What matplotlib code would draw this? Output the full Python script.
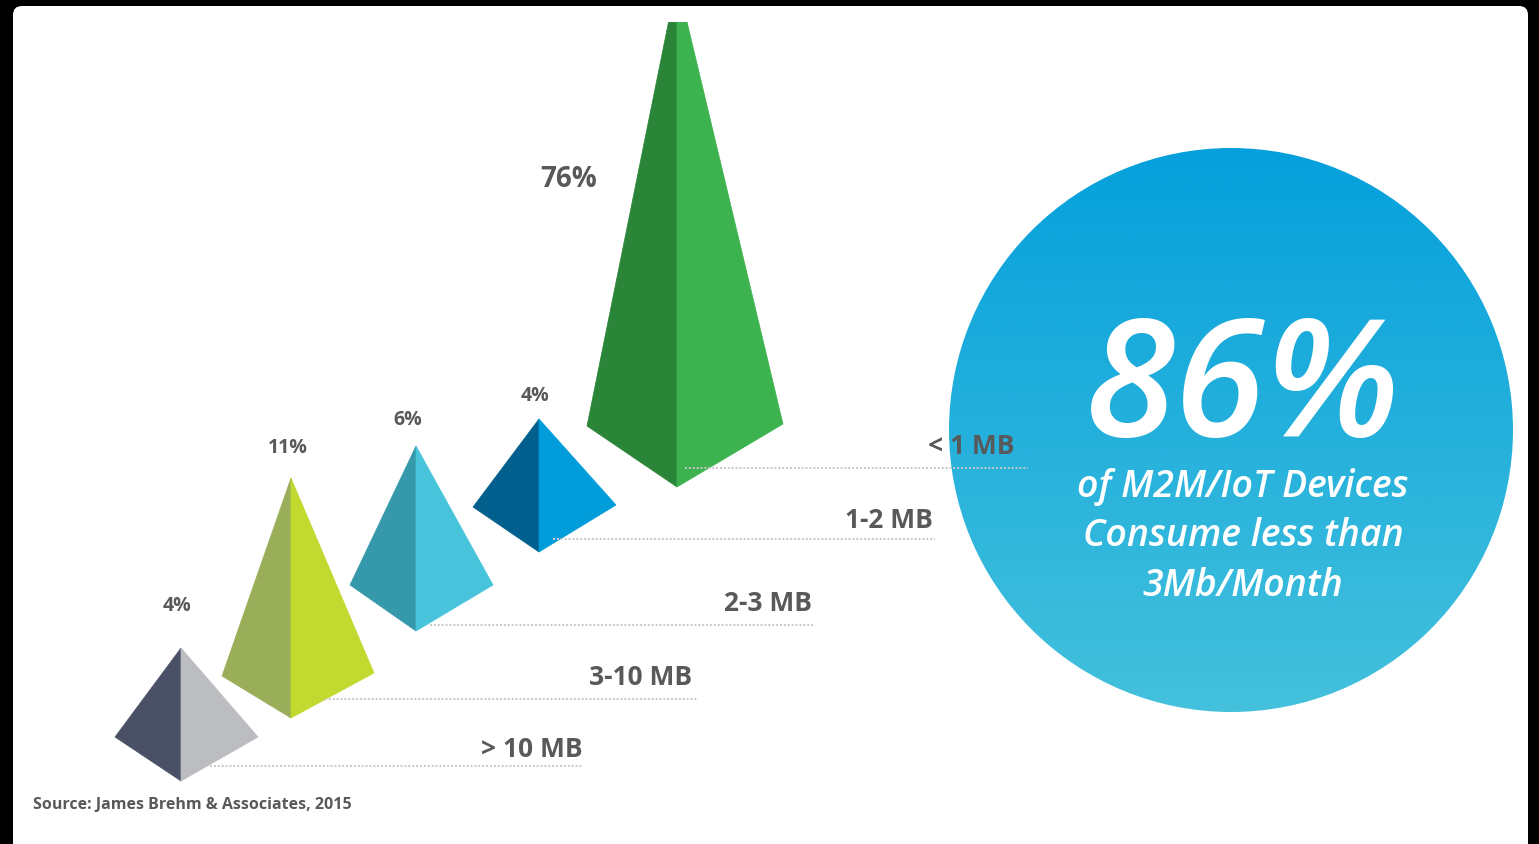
import numpy as np
import matplotlib
matplotlib.use("Agg")
import matplotlib.pyplot as plt
from matplotlib.patches import Polygon, Circle, FancyBboxPatch, Rectangle
from matplotlib.colors import to_rgb

# data
categories = ["> 10 MB", "3-10 MB", "2-3 MB", "1-2 MB", "< 1 MB"]
shares = [4, 11, 6, 4, 76]
share_labels = ["%d%%" % v for v in shares]
headline = "86%"
headline_sub = ["of M2M/IoT Devices", "Consume less than", "3Mb/Month"]
source = "Source: James Brehm & Associates, 2015"

# layout (pixel coords, y downwards)
W, H = 1539, 844
# cx, apex_y, bottom_y, left corner, right corner
pyr = [
    (181, 648, 781, (115, 737), (258, 737)),
    (291, 478, 718, (222, 676), (374, 673)),
    (416, 446, 631, (350, 585), (493, 585)),
    (539, 419, 552, (473, 507), (616, 505)),
    (677, -20, 487, (587, 426), (783, 424)),
]
face_dark = ["#4a5166", "#9aae5a", "#3599ab", "#005f8d", "#2b8538"]
face_light = ["#bcbdc1", "#c2d92f", "#47c4dc", "#019ddb", "#3db34f"]
pct_pos = [(177, 611), (288, 453), (408, 425), (535, 401), (569, 187)]
pct_size = [14, 14, 14, 14, 20]
lab_pos = [(583, 757), (692, 685), (812, 611), (933, 528), (1014, 454)]
line_pos = [(210, 582, 766), (325, 697, 699), (430, 815, 625),
            (553, 935, 539), (685, 1028, 468)]

TXT = "#58595b"
FONT = "Open Sans"

fig = plt.figure(figsize=(W / 100, H / 100), dpi=100, facecolor="black")
ax = fig.add_axes([0, 0, 1, 1])
ax.set_facecolor("black")
ax.axis("off")

panel = FancyBboxPatch((13, 6), 1515, 900, boxstyle="round,pad=0,rounding_size=9",
                       facecolor="white", edgecolor="none", zorder=0)
ax.add_patch(panel)
clip = Rectangle((13, 22), 1515, 900, transform=ax.transData)

# circle with vertical gradient
cx, cy, r = 1231, 430, 282
top_c = np.array(to_rgb("#05a0dc"))
bot_c = np.array(to_rgb("#44c1dc"))
t = np.linspace(0, 1, 256)[:, None, None]
grad = top_c * (1 - t) + bot_c * t
im = ax.imshow(grad, extent=(cx - r, cx + r, cy + r, cy - r), origin="upper",
               aspect="auto", zorder=1, interpolation="bilinear")
circ = Circle((cx, cy), r, transform=ax.transData)
im.set_clip_path(circ)

# pyramids
for i, (px, ay, by, lc, rc) in enumerate(pyr):
    left = Polygon([(px, ay), lc, (px, by)], closed=True,
                   facecolor=face_dark[i], edgecolor=face_dark[i], lw=0.5, zorder=3)
    right = Polygon([(px, ay), rc, (px, by)], closed=True,
                    facecolor=face_light[i], edgecolor=face_light[i], lw=0.5, zorder=3)
    ax.add_patch(left)
    ax.add_patch(right)
    left.set_clip_path(clip)
    right.set_clip_path(clip)
    ax.text(pct_pos[i][0], pct_pos[i][1], share_labels[i], ha="center", va="baseline",
            fontsize=pct_size[i], fontweight="bold", color=TXT, family=FONT, zorder=5)

# category lines and labels
for i, cat in enumerate(categories):
    x0, x1, ly = line_pos[i]
    ax.plot([x0, x1], [ly, ly], color="#c8c8c8", lw=1.4, ls=(0, (1, 1)), zorder=4)
    ax.text(lab_pos[i][0], lab_pos[i][1], cat, ha="right", va="baseline",
            fontsize=19, fontweight="bold", color=TXT, family=FONT, zorder=5)

# headline in circle
ax.text(1243, 436, headline, ha="center", va="baseline", fontsize=118,
        fontweight="semibold", style="italic", color="white", family=FONT, zorder=6)
for j, (s, by) in enumerate(zip(headline_sub, [497, 546, 596])):
    ax.text(1243, by, s, ha="center", va="baseline", fontsize=27,
            fontweight="semibold", style="italic", color="white", family=FONT, zorder=6)

ax.text(33, 809, source, ha="left", va="baseline", fontsize=11.5,
        fontweight="bold", color=TXT, family=FONT, zorder=5)

ax.set_xlim(0, W)
ax.set_ylim(H, 0)
fig.savefig("out.png", dpi=100, facecolor="black")
